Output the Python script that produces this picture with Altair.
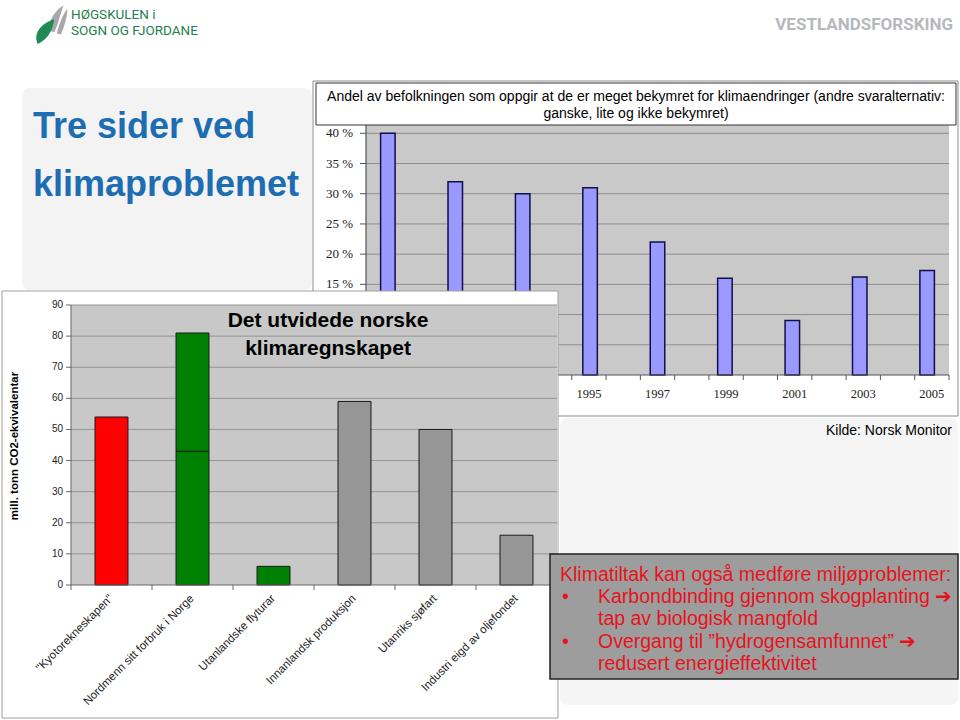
import altair as alt
import pandas as pd

# ---------------- data ----------------
# Upper chart: share "very worried" about climate change (Norsk Monitor)
survey_years = [1989, 1991, 1993, 1995, 1997, 1999, 2001, 2003, 2005]
survey_share = [40, 32, 30, 31, 22, 16, 9, 16.2, 17.3]
survey_slots = [1989, 1990, 1991, 1992, 1993, 1994, 1995, 1996, 1997,
                1998, 1999, 2000, 2001, 2002, 2003, 2004, 2005]
survey_label_years = [1995, 1997, 1999, 2001, 2003, 2005]
survey_pct_ticks = [0, 5, 10, 15, 20, 25, 30, 35, 40]
survey_pct_labels = [15, 20, 25, 30, 35, 40]   # the lower ones sit under the front chart

# Lower chart: extended Norwegian climate account (mill. tonn CO2-ekv.)
acct_categories = ['"Kyotorekneskapen"', "Nordmenn sitt forbruk i Norge",
                   "Utanlandske flyturar", "Innanlandsk produksjon",
                   "Utanriks sjøfart", "Industri eigd av oljefondet"]
seg_category = ['"Kyotorekneskapen"', "Nordmenn sitt forbruk i Norge",
                "Nordmenn sitt forbruk i Norge", "Utanlandske flyturar",
                "Innanlandsk produksjon", "Utanriks sjøfart",
                "Industri eigd av oljefondet"]
seg_value = [54, 43, 38, 6, 59, 50, 16]
seg_group = ["kyoto", "forbruk", "forbruk", "forbruk", "ute", "ute", "ute"]
acct_ticks = [0, 10, 20, 30, 40, 50, 60, 70, 80, 90]

# ---------------- styles ----------------
SANS = "Liberation Sans, Arial, Helvetica, sans-serif"
SERIF = "Liberation Serif, Times New Roman, serif"
NARROW = "Liberation Sans Narrow, Arial Narrow, Roboto, sans-serif"
ONE = pd.DataFrame({"k": [0]})


def txt(s, x, y, size, color="black", font=SANS, weight="normal",
        align="left", baseline="alphabetic", angle=0):
    return alt.Chart(ONE).mark_text(
        text=s, fontSize=size, font=font, fontWeight=weight, color=color,
        align=align, baseline=baseline, angle=angle
    ).encode(x=alt.value(x), y=alt.value(y))


def box(x1, y1, x2, y2, fill, stroke=None, sw=1.0, radius=0):
    kw = dict(fill=fill, cornerRadius=radius)
    if stroke:
        kw.update(stroke=stroke, strokeWidth=sw)
    else:
        kw.update(strokeWidth=0)
    return alt.Chart(ONE).mark_rect(**kw).encode(
        x=alt.value(x1), x2=alt.value(x2), y=alt.value(y1), y2=alt.value(y2))


def hline(x1, x2, y, color, sw=1.0):
    return alt.Chart(ONE).mark_rule(color=color, strokeWidth=sw).encode(
        x=alt.value(x1), x2=alt.value(x2), y=alt.value(y))


def vline(x, y1, y2, color, sw=1.0):
    return alt.Chart(ONE).mark_rule(color=color, strokeWidth=sw).encode(
        x=alt.value(x), y=alt.value(y1), y2=alt.value(y2))


layers = []

# ---------------- background / branding ----------------
layers.append(box(22, 88, 312, 290, "#f3f3f3", radius=8))
layers.append(box(560, 418, 958, 705, "#f5f5f5", radius=8))

leaf_green = "M -0.55 1 C -0.9 0.3 -0.3 -0.4 0.55 -0.65 C 0.45 0.1 0.1 0.7 -0.55 1 Z"
leaf_gray = ("M -0.2 0.55 C -0.1 -0.2 0.3 -0.75 0.75 -1 C 0.55 -0.45 0.45 0.1 0.2 0.6 Z "
             "M 0.35 0.7 C 0.5 0.1 0.7 -0.45 1 -0.8 C 0.95 -0.2 0.8 0.3 0.6 0.75 Z")
layers.append(alt.Chart(ONE).mark_point(shape=leaf_gray, filled=True, color="#a8a8a8",
                                        size=1100, opacity=1)
              .encode(x=alt.value(51), y=alt.value(22)))
layers.append(alt.Chart(ONE).mark_point(shape=leaf_green, filled=True, color="#1f8a55",
                                        size=900, opacity=1)
              .encode(x=alt.value(46), y=alt.value(29)))
layers.append(txt("HØGSKULEN i", 71, 19, 13.5, color="#1f7f4f", font=NARROW))
layers.append(txt("SOGN OG FJORDANE", 71, 35, 13.5, color="#1f7f4f", font=NARROW))
layers.append(txt("VESTLANDSFORSKING", 953, 30, 17, color="#b6b8be", font=NARROW,
                  weight="bold", align="right"))

layers.append(txt("Tre sider ved", 33, 138, 36, color="#1d6db3", weight="bold"))
layers.append(txt("klimaproblemet", 33, 196, 36, color="#1d6db3", weight="bold"))

# ---------------- upper chart ----------------
SX = alt.Scale(domain=[1988.5, 2005.5], range=[366, 949], nice=False, zero=False)
SY = alt.Scale(domain=[0, 40], range=[375, 133.3], nice=False, zero=False)

layers.append(box(313, 81, 958, 416, "white", stroke="#8c8c8c", sw=1))
layers.append(box(366, 121, 949, 375, "#c9c9c9"))

pct_df = pd.DataFrame({"p": survey_pct_ticks})
grid_df = pct_df[pct_df["p"] > 0]
layers.append(alt.Chart(grid_df).mark_rule(color="#8e8e8e", strokeWidth=1).encode(
    y=alt.Y("p:Q", scale=SY, axis=None), x=alt.value(366), x2=alt.value(949)))

bars_df = pd.DataFrame({"year": survey_years, "share": survey_share})
layers.append(alt.Chart(bars_df).mark_bar(size=14.5, fill="#9999ff", stroke="#10104a",
                                          strokeWidth=1.5).encode(
    x=alt.X("year:Q", scale=SX, axis=None),
    y=alt.Y("share:Q", scale=SY, axis=None),
    y2=alt.datum(0)))

layers.append(vline(366, 121, 375, "#555555", 1.2))
layers.append(hline(366, 949, 375, "#555555", 1.2))
layers.append(alt.Chart(pct_df).mark_rule(color="#555555").encode(
    y=alt.Y("p:Q", scale=SY, axis=None), x=alt.value(360), x2=alt.value(366)))
plab_df = pd.DataFrame({"p": survey_pct_labels})
plab_df["lab"] = plab_df["p"].astype(str) + " %"
layers.append(alt.Chart(plab_df).mark_text(font=SERIF, fontSize=13, align="right",
                                           baseline="middle", color="#222222").encode(
    y=alt.Y("p:Q", scale=SY, axis=None), x=alt.value(353), text="lab:N"))

bounds_df = pd.DataFrame({"b": [y - 0.5 for y in survey_slots] + [survey_slots[-1] + 0.5]})
layers.append(alt.Chart(bounds_df).mark_rule(color="#555555").encode(
    x=alt.X("b:Q", scale=SX, axis=None), y=alt.value(375), y2=alt.value(380)))
ylab_df = pd.DataFrame({"year": survey_label_years})
layers.append(alt.Chart(ylab_df).mark_text(font=SERIF, fontSize=12.5, baseline="alphabetic",
                                           color="#222222").encode(
    x=alt.X("year:Q", scale=SX, axis=None), y=alt.value(398), text="year:N"))

layers.append(box(316, 83, 956, 125, "white", stroke="#333333", sw=1))
layers.append(txt("Andel av befolkningen som oppgir at de er meget bekymret for "
                  "klimaendringer (andre svaralternativ:", 636, 101, 14, align="center"))
layers.append(txt("ganske, lite og ikke bekymret)", 636, 118, 14, align="center"))

layers.append(txt("Kilde: Norsk Monitor", 952, 435, 14, align="right"))

# ---------------- lower chart ----------------
BX = alt.Scale(domain=acct_categories, range=[71, 557], paddingInner=0.593,
               paddingOuter=0.2965)
BXI = alt.Scale(domain=[0, len(acct_categories)], range=[71, 557], nice=False, zero=False)
BY = alt.Scale(domain=[0, 90], range=[585, 305], nice=False, zero=False)

layers.append(box(2, 291, 558, 718, "white", stroke="#a0a0a0", sw=1))
layers.append(box(71, 305, 557, 585, "#c8c8c8"))

at_df = pd.DataFrame({"v": acct_ticks})
layers.append(alt.Chart(at_df[at_df["v"] > 0]).mark_rule(color="#949494").encode(
    y=alt.Y("v:Q", scale=BY, axis=None), x=alt.value(71), x2=alt.value(557)))

seg_df = pd.DataFrame({"cat": seg_category, "val": seg_value, "grp": seg_group})
seg_df["top"] = seg_df.groupby("cat")["val"].cumsum()
seg_df["base"] = seg_df["top"] - seg_df["val"]
layers.append(alt.Chart(seg_df).mark_bar(stroke="#1a1a1a", strokeWidth=1).encode(
    x=alt.X("cat:N", scale=BX, axis=None),
    y=alt.Y("top:Q", scale=BY, axis=None),
    y2="base:Q",
    fill=alt.Fill("grp:N", legend=None,
                  scale=alt.Scale(domain=["kyoto", "forbruk", "ute"],
                                  range=["#ff0000", "#008000", "#969696"]))))

layers.append(vline(71, 305, 585, "#666666", 1))
layers.append(hline(71, 557, 585, "#666666", 1))
layers.append(alt.Chart(at_df).mark_rule(color="#666666").encode(
    y=alt.Y("v:Q", scale=BY, axis=None), x=alt.value(66), x2=alt.value(71)))
layers.append(alt.Chart(at_df).mark_text(font=SANS, fontSize=10, align="right",
                                         baseline="middle", color="#222222").encode(
    y=alt.Y("v:Q", scale=BY, axis=None), x=alt.value(63), text="v:N"))

cb_df = pd.DataFrame({"i": list(range(len(acct_categories) + 1))})
layers.append(alt.Chart(cb_df).mark_rule(color="#666666").encode(
    x=alt.X("i:Q", scale=BXI, axis=None), y=alt.value(585), y2=alt.value(590)))
cat_df = pd.DataFrame({"cat": acct_categories})
layers.append(alt.Chart(cat_df).mark_text(font=SANS, fontSize=11.5, align="right",
                                          baseline="middle", angle=315,
                                          color="#222222").encode(
    x=alt.X("cat:N", scale=BX, axis=None), y=alt.value(597), text="cat:N"))

layers.append(txt("mill. tonn CO2-ekvivalentar", 15, 446, 11.5, weight="bold",
                  align="center", baseline="middle", angle=270))
layers.append(txt("Det utvidede norske", 328, 327, 21, weight="bold", align="center"))
layers.append(txt("klimaregnskapet", 328, 355, 21, weight="bold", align="center"))

# ---------------- text box ----------------
RED = "#e8121c"
layers.append(box(550, 554, 958, 679, "#9d9d9d", stroke="#222222", sw=1.5))
layers.append(txt("Klimatiltak kan også medføre miljøproblemer:", 560, 581, 19.5, color=RED))
layers.append(txt("•", 562, 603, 19.5, color=RED))
layers.append(txt("Karbondbinding gjennom skogplanting ➔", 598, 603, 19.5, color=RED))
layers.append(txt("tap av biologisk mangfold", 598, 625, 19.5, color=RED))
layers.append(txt("•", 562, 648, 19.5, color=RED))
layers.append(txt("Overgang til ”hydrogensamfunnet” ➔", 598, 648, 19.5, color=RED))
layers.append(txt("redusert energieffektivitet", 598, 670, 19.5, color=RED))

chart = alt.layer(*layers).resolve_scale(
    x="independent", y="independent", fill="independent"
).properties(
    width=960, height=720, background="white", padding=0, autosize="none"
).configure_view(stroke=None)

chart.save("out.html", embed_options={"renderer": "svg", "actions": False})
